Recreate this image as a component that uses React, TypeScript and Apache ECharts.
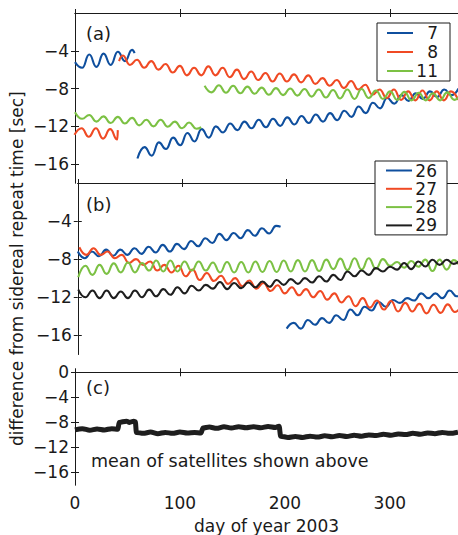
import React, { useEffect, useRef } from 'react';
import * as echarts from 'echarts';

// ---------- data ----------
const HALF_PERIOD = 6.8; // days between successive extremes of the wiggle
const DAY_TICKS = [0, 100, 200, 300];
const Y_TICKS_AB = [-16, -12, -8, -4];
const Y_TICKS_C = [-16, -12, -8, -4, 0];

// panel (a)
const sat7aStart = 0;
const sat7a = [-5.2, -5.8, -4.4, -5.7, -4.3, -5.5, -4.1, -5.1, -3.9];
const sat7aTail: [number, number] = [56.8, -4.25];
const sat7bStart = 59.5;
const sat7b = [-15.4, -14.2, -15.1, -13.7, -14.4, -13.2, -14.0, -12.7, -13.6, -12.3, -13.2, -12.0, -12.65, -11.7, -12.4, -11.5, -12.2, -11.3, -12.1, -11.2, -11.95, -11.05, -11.8, -10.9, -11.65, -10.75, -11.5, -10.6, -11.35, -10.35, -11.0, -9.9, -10.6, -9.5, -10.1, -9.0, -9.6, -8.7, -9.3, -8.5, -9.1, -8.3, -8.9, -8.1, -8.7, -8.0];

const sat8aStart = -0.5;
const sat8a = [-12.9, -12.2, -13.1, -12.2, -13.3, -12.3, -13.4];
const sat8aTail: [number, number] = [40.8, -12.4];
const sat8bHead: [number, number] = [42, -5.1];
const sat8bStart = 45.5;
const sat8b = [-4.5, -5.5, -4.95, -5.8, -5.1, -6.0, -5.4, -6.3, -5.6, -6.6, -5.8, -6.6, -5.65, -6.6, -5.8, -6.8, -6.0, -7.0, -6.2, -7.1, -6.35, -7.25, -6.4, -7.25, -6.5, -7.35, -6.6, -7.5, -6.9, -7.7, -7.1, -7.95, -7.2, -8.1, -7.6, -8.65, -8.1, -9.0, -8.1, -9.2, -8.3, -9.25, -8.2, -9.25, -8.3, -9.25, -8.3, -9.2];

const sat11aStart = 0;
const sat11a = [-10.5, -11.2, -10.8, -11.5, -10.95, -11.65, -11.0, -11.7, -11.1, -11.9, -11.3, -12.0, -11.3, -12.05, -11.5, -12.2, -11.6, -12.25];
const sat11aTail: [number, number] = [120.3, -12.1];
const sat11bStart = 123.5;
const sat11b = [-7.7, -8.4, -7.65, -8.45, -7.7, -8.5, -7.8, -8.55, -7.9, -8.65, -7.95, -8.7, -8.0, -8.75, -8.05, -8.85, -8.1, -8.95, -8.15, -9.05, -8.1, -9.1, -8.05, -9.0, -8.2, -9.1, -8.3, -9.2, -8.35, -9.25, -8.45, -9.25, -8.5, -9.25, -8.4, -9.2, -8.4];

// panel (b)
const sat26aStart = 0;
const sat26a = [-7.2, -7.9, -7.2, -7.7, -7.0, -7.65, -7.0, -7.55, -6.85, -7.45, -6.7, -7.3, -6.5, -7.2, -6.4, -6.95, -6.1, -6.65, -5.8, -6.3, -5.35, -6.0, -5.25, -5.8, -4.95, -5.55, -4.75, -5.3, -4.5];
const sat26aTail: [number, number] = [194.7, -4.6];
const sat26bStart = 200.5;
const sat26b = [-15.3, -14.7, -15.3, -14.4, -14.9, -14.2, -14.7, -13.9, -14.4, -13.3, -13.9, -13.0, -13.4, -12.5, -13.0, -12.3, -12.6, -12.1, -12.35, -11.6, -12.1, -11.6, -12.1, -11.3, -11.9, -11.3];

const sat27Start = 1.5;
const sat27 = [-6.75, -7.55, -6.85, -7.55, -7.2, -7.9, -7.55, -8.4, -8.0, -8.6, -8.25, -9.2, -8.6, -9.4, -8.7, -9.8, -9.1, -10.2, -9.45, -10.3, -9.75, -10.6, -10.0, -10.85, -10.25, -11.1, -10.5, -11.35, -10.75, -11.6, -10.95, -11.8, -11.15, -12.0, -11.35, -12.25, -11.6, -12.55, -11.9, -12.95, -12.1, -13.1, -12.35, -13.3, -12.4, -13.5, -12.6, -13.5, -12.7, -13.7, -12.8, -13.65, -12.75, -13.55, -12.8];

const sat28Start = 0.5;
const sat28 = [-9.9, -8.7, -9.65, -8.6, -9.55, -8.45, -9.4, -8.35, -9.4, -8.4, -9.2, -8.15, -9.3, -8.15, -9.3, -8.25, -9.2, -8.25, -9.2, -8.35, -9.4, -8.3, -9.4, -8.3, -9.4, -8.25, -9.35, -8.2, -9.35, -8.15, -9.3, -8.1, -9.3, -8.1, -9.25, -8.05, -9.05, -7.95, -9.15, -7.9, -9.1, -7.9, -9.0, -8.0, -8.7, -8.3, -8.9, -8.2, -8.8, -8.05, -9.25, -8.05, -9.1, -8.1, -9.0];

const sat29Start = 0.5;
const sat29 = [-11.2, -12.0, -11.3, -12.1, -11.3, -12.1, -11.4, -12.1, -11.3, -12.0, -11.2, -11.9, -11.15, -11.75, -10.95, -11.6, -10.8, -11.3, -10.7, -11.1, -10.4, -11.15, -10.5, -11.05, -10.45, -10.95, -10.35, -10.9, -10.2, -10.7, -10.1, -10.6, -10.0, -10.45, -9.8, -10.35, -9.65, -10.2, -9.3, -9.8, -9.2, -9.65, -8.95, -9.3, -8.8, -9.1, -8.4, -9.05, -8.25, -8.77, -8.07, -8.6, -8.07, -8.5, -8.0];

// panel (c): mean of satellites
const meanDays = [0, 7, 14, 21, 28, 35, 41, 42, 49, 52, 56, 57.5, 58.5, 65, 72, 79, 86, 93, 100, 107, 114, 120, 122, 128, 135, 142, 149, 156, 163, 170, 177, 184, 191, 194.5, 196, 203, 210, 217, 224, 231, 238, 245, 252, 259, 266, 273, 280, 287, 294, 301, 308, 315, 322, 329, 336, 343, 350, 357, 365];
const meanValues = [-9.2, -9.0, -9.25, -9.05, -9.2, -9.0, -9.1, -8.0, -7.8, -8.0, -7.8, -7.9, -9.6, -9.75, -9.55, -9.8, -9.6, -9.75, -9.55, -9.7, -9.6, -9.7, -8.9, -8.75, -8.95, -8.7, -8.9, -8.7, -8.85, -8.7, -8.85, -8.65, -8.8, -8.6, -10.2, -10.4, -10.25, -10.4, -10.2, -10.35, -10.15, -10.3, -10.1, -10.25, -10.05, -10.2, -10.0, -10.1, -9.9, -10.05, -9.85, -9.95, -9.75, -9.9, -9.7, -9.8, -9.6, -9.75, -9.55];

const LEGEND_A = ['7', '8', '11'];
const LEGEND_B = ['26', '27', '28', '29'];

// ---------- styling ----------
const FONT = '"DejaVu Sans", "Liberation Sans", sans-serif';
const BLUE = '#0f4f9e';
const RED = '#f04a24';
const GREEN = '#7cc144';
const BLACK = '#1e1e1e';
const INK = '#1a1a1a';
const CLEAR = 'rgba(0,0,0,0)';

function wave(start: number, vals: number[], head?: [number, number], tail?: [number, number]) {
  const pts: [number, number][] = vals.map((v, i) => [start + i * HALF_PERIOD, v]);
  if (head) pts.unshift(head);
  if (tail) pts.push(tail);
  return pts;
}

const minus = (v: number) => (v < 0 ? '\u2212' + Math.abs(v) : String(v));

export default function App() {
  const ref = useRef<HTMLDivElement>(null);
  useEffect(() => {
    if (!ref.current) return;
    const chart = echarts.init(ref.current, undefined, { renderer: 'svg' });

    const L = 75;
    const W = 384;
    const grids = [
      { left: L, top: 13, width: W, height: 170 },
      { left: L, top: 183, width: W, height: 171.3 },
      { left: L, top: 372.3, width: W, height: 113.4 },
    ];

    const axisLine = { show: true, lineStyle: { color: INK, width: 1 } };
    const xAxes: any[] = [];
    const yAxes: any[] = [];
    grids.forEach((_, g) => {
      const isLast = g === 2;
      xAxes.push({
        type: 'value', gridIndex: g, min: 0, max: 365, position: 'bottom',
        axisLine,
        axisTick: { show: true, inside: true, length: 4, customValues: DAY_TICKS, lineStyle: { color: INK } },
        axisLabel: isLast
          ? { show: true, customValues: DAY_TICKS, margin: 9, fontSize: 17, fontFamily: FONT, color: INK }
          : { show: false },
        splitLine: { show: false },
        name: isLast ? 'day of year 2003' : '',
        nameLocation: 'middle', nameGap: 32,
        nameTextStyle: { fontSize: 17, fontFamily: FONT, color: INK },
      });
      xAxes.push({
        type: 'value', gridIndex: g, min: 0, max: 365, position: 'top',
        axisLine,
        axisTick: { show: true, inside: true, length: 4, customValues: DAY_TICKS, lineStyle: { color: INK } },
        axisLabel: { show: false }, splitLine: { show: false },
      });
      const ticks = isLast ? Y_TICKS_C : Y_TICKS_AB;
      yAxes.push({
        type: 'value', gridIndex: g, min: -18, max: 0, position: 'left',
        axisLine,
        axisTick: { show: true, inside: true, length: 4, customValues: ticks, lineStyle: { color: INK } },
        axisLabel: { show: true, customValues: ticks, formatter: minus, margin: 6, fontSize: 17, fontFamily: FONT, color: INK },
        splitLine: { show: false },
        name: g === 1 ? 'difference from sidereal repeat time [sec]' : '',
        nameLocation: 'middle', nameGap: 45,
        nameTextStyle: { fontSize: 17, fontFamily: FONT, color: INK },
      });
      yAxes.push({
        type: 'value', gridIndex: g, min: -18, max: 0, position: 'right',
        axisLine,
        axisTick: { show: true, inside: true, length: 4, customValues: ticks, lineStyle: { color: INK } },
        axisLabel: { show: false }, splitLine: { show: false },
      });
    });

    const line = (name: string, color: string, data: [number, number][], g: number, width = 2.1) => ({
      type: 'line', name, data, xAxisIndex: g * 2, yAxisIndex: g * 2,
      symbol: 'none', smooth: 0.5, smoothMonotone: 'x',
      lineStyle: { color, width }, itemStyle: { color },
      emphasis: { disabled: true }, silent: true,
    });

    const series: any[] = [
      line('7', BLUE, wave(sat7aStart, sat7a, undefined, sat7aTail), 0),
      line('7', BLUE, wave(sat7bStart, sat7b), 0),
      line('8', RED, wave(sat8aStart, sat8a, undefined, sat8aTail), 0),
      line('8', RED, wave(sat8bStart, sat8b, sat8bHead), 0),
      line('11', GREEN, wave(sat11aStart, sat11a, undefined, sat11aTail), 0),
      line('11', GREEN, wave(sat11bStart, sat11b), 0),
      line('26', BLUE, wave(sat26aStart, sat26a, undefined, sat26aTail), 1),
      line('26', BLUE, wave(sat26bStart, sat26b), 1),
      line('27', RED, wave(sat27Start, sat27), 1),
      line('28', GREEN, wave(sat28Start, sat28), 1),
      line('29', BLACK, wave(sat29Start, sat29), 1),
      {
        type: 'line', name: 'mean', xAxisIndex: 4, yAxisIndex: 4,
        data: meanDays.map((d, i) => [d, meanValues[i]]),
        symbol: 'none', smooth: 0.3, smoothMonotone: 'x',
        lineStyle: { color: BLACK, width: 5 }, silent: true,
      },
    ];

    const legendBase = {
      orient: 'vertical', itemWidth: 26, itemHeight: 17,
      borderColor: INK, borderWidth: 1, backgroundColor: '#fff', borderRadius: 0,
      selectedMode: false,
      formatter: (n: string) => `{n|${n}}`,
      textStyle: { rich: { n: { width: 20, align: 'right', fontSize: 17, fontFamily: FONT, color: INK } } },
      itemStyle: { color: CLEAR, borderColor: CLEAR, borderWidth: 0, opacity: 0 },
      lineStyle: { width: 2 },
      z: 10,
    };

    chart.setOption({
      animation: false,
      grid: grids,
      xAxis: xAxes,
      yAxis: yAxes,
      legend: [
        { ...legendBase, data: LEGEND_A, left: 377, top: 23, padding: [1.5, 12, 1.5, 9], itemGap: 2 },
        { ...legendBase, data: LEGEND_B, left: 375, top: 161, padding: [1, 10, 1, 10], itemGap: 1.3 },
      ],
      graphic: [
        { type: 'text', x: 86, y: 33, style: { text: '(a)', fontSize: 18, fontFamily: FONT, fill: INK, verticalAlign: 'middle' } },
        { type: 'text', x: 86, y: 204, style: { text: '(b)', fontSize: 18, fontFamily: FONT, fill: INK, verticalAlign: 'middle' } },
        { type: 'text', x: 86, y: 387, style: { text: '(c)', fontSize: 18, fontFamily: FONT, fill: INK, verticalAlign: 'middle' } },
        { type: 'text', x: 91, y: 461, style: { text: 'mean of satellites shown above', fontSize: 17.5, fontFamily: FONT, fill: INK, verticalAlign: 'middle' } },
      ],
      series,
    });
    return () => chart.dispose();
  }, []);

  return <div ref={ref} style={{ position: 'absolute', left: 0, top: 0, width: 458, height: 535, background: '#fff' }} />;
}
